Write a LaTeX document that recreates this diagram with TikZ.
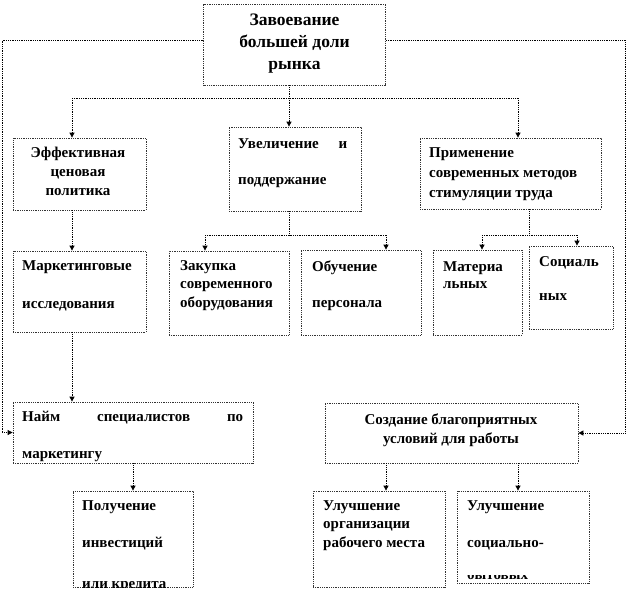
\documentclass[tikz,border=0pt]{standalone}
\usepackage{fontspec}
\setmainfont{Liberation Serif}
\usetikzlibrary{arrows.meta,calc}
\tikzset{
  box/.style={draw=black!80, densely dotted, line width=0.8pt, inner sep=0pt},
  conn/.style={black, densely dotted, line width=0.8pt},
  arr/.style={conn, -{Triangle[length=5pt,width=5pt]}},
  tx/.style={inner sep=0pt, font=\fontsize{15}{18}\selectfont\bfseries},
  ttop/.style={inner sep=0pt, font=\fontsize{17.5}{21}\selectfont\bfseries},
}
\newcommand\bx[5]{\node[box, minimum width=#4, minimum height=#5] (#1) at (#2,#3) {};}
\newcommand\tl[4]{\node[tx, anchor=base west] (#1) at (#2,#3) {#4};}
\newcommand\tc[4]{\node[tx, anchor=base] (#1) at (#2,#3) {#4};}
\begin{document}
\begin{tikzpicture}[x=1pt,y=-1pt]
\useasboundingbox (0,0) rectangle (626,590);
% boxes
\bx{top}{294.5}{44.5}{182}{81}
\bx{eff}{79.5}{174}{133}{72}
\bx{uv}{295}{169}{132}{84}
\bx{pr}{510.5}{173.5}{181}{71}
\bx{mk}{79.5}{291.5}{133}{81}
\bx{zk}{229}{293}{120}{84}
\bx{ob}{361}{292.5}{120}{85}
\bx{mt}{477.5}{292.5}{89}{85}
\bx{so}{571}{287.5}{84}{83}
\bx{nm}{133}{432.5}{240}{61}
\bx{sz}{451.5}{433}{253}{60}
\bx{pl}{133}{539}{120}{96}
\bx{uo}{379}{539}{132}{96}
\bx{us}{523}{537}{132}{92}
% texts
\node[ttop, anchor=base] (top1) at (294.5,25) {Завоевание};
\node[ttop, anchor=base] (top2) at (294.5,47) {большей доли};
\node[ttop, anchor=base] (top3) at (294.5,69) {рынка};
\tc{eff1}{78}{157}{Эффективная}
\tc{eff2}{78}{176}{ценовая}
\tc{eff3}{78}{195}{политика}
\tl{uv1}{238}{148}{\makebox[109pt][s]{Увеличение\hfill и}}
\tl{uv2}{238}{184}{поддержание}
\tl{pr1}{429}{157}{Применение}
\tl{pr2}{429}{177}{современных методов}
\tl{pr3}{429}{197}{стимуляции труда}
\tl{mk1}{22}{270}{Маркетинговые}
\tl{mk2}{22}{308}{исследования}
\tl{zk1}{180}{270}{Закупка}
\tl{zk2}{180}{288}{современного}
\tl{zk3}{180}{307}{оборудования}
\tl{ob1}{312}{271}{Обучение}
\tl{ob2}{312}{307}{персонала}
\tl{mt1}{443}{271}{Материа}
\tl{mt2}{443}{288}{льных}
\tl{so1}{539}{266}{Социаль}
\tl{so2}{539}{300}{ных}
\begin{scope}
  \clip (nm.north west) rectangle (nm.south east);
  \tl{nm1}{22}{421}{\makebox[221pt][s]{Найм\hfill специалистов\hfill по}}
  \tl{nm2}{22}{458.5}{маркетингу}
\end{scope}
\tc{sz1}{451}{424}{Создание благоприятных}
\tc{sz2}{451}{443}{условий для работы}
\begin{scope}
  \clip (pl.north west) rectangle (pl.south east);
  \tl{pl1}{82}{510}{Получение}
  \tl{pl2}{82}{547}{инвестиций}
  \tl{pl3}{82}{588}{или кредита}
\end{scope}
\tl{uo1}{323}{510}{Улучшение}
\tl{uo2}{323}{528}{организации}
\tl{uo3}{323}{547}{рабочего места}
\tl{us1}{467}{510}{Улучшение}
\tl{us2}{467}{547}{социально-}
\begin{scope}
  \clip (457,575.5) rectangle (589,579);
  \tl{us3}{467}{579}{бытовых}
\end{scope}
% connectors
\coordinate (lc) at (2,40);
\coordinate (rc) at (625,40);
\draw[arr] (top.west |- lc) -- (lc) |- (nm.west);
\draw[arr] (top.east |- rc) -- (rc) |- (sz.east);
\coordinate (j1) at (289,98);
\coordinate (bL) at (72,98);
\coordinate (bR) at (518,98);
\draw[conn] (j1 |- top.south) -- (j1);
\draw[conn] (bL) -- (bR);
\draw[arr] (j1) -- (j1 |- uv.north);
\draw[arr] (bL) -- (bL |- eff.north);
\draw[arr] (bR) -- (bR |- pr.north);
\draw[arr] (bL |- eff.south) -- (bL |- mk.north);
\draw[arr] (bL |- mk.south) -- (bL |- nm.north);
\coordinate (j2) at (289,235);
\coordinate (b2L) at (205,235);
\coordinate (b2R) at (386,235);
\draw[conn] (j2 |- uv.south) -- (j2);
\draw[conn] (b2L) -- (b2R);
\draw[arr] (b2L) -- (b2L |- zk.north);
\draw[arr] (b2R) -- (b2R |- ob.north);
\coordinate (j3) at (529,235);
\coordinate (b3L) at (482,235);
\coordinate (b3R) at (577,235);
\draw[conn] (j3 |- pr.south) -- (j3);
\draw[conn] (b3L) -- (b3R);
\draw[arr] (b3L) -- (b3L |- mt.north);
\draw[arr] (b3R) -- (b3R |- so.north);
\draw[arr] (nm.south) -- (pl.north);
\draw[arr] (b2R |- sz.south) -- (b2R |- uo.north);
\draw[arr] (bR |- sz.south) -- (bR |- us.north);
\end{tikzpicture}
\end{document}
